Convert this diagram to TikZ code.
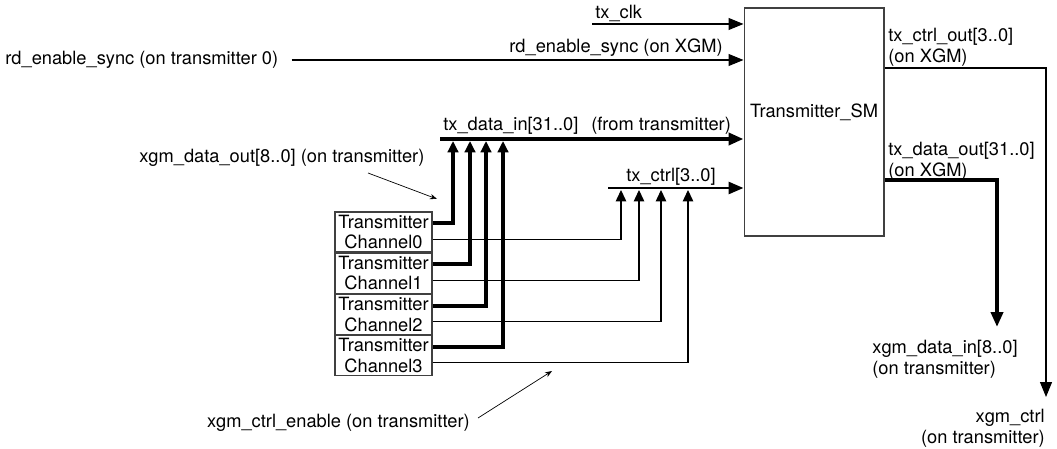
\documentclass[tikz,border=0pt]{standalone}
\usepackage{fontspec}
\setmainfont{TeX Gyre Heros}
\usetikzlibrary{positioning,arrows.meta}

\begin{document}
\begin{tikzpicture}[x=0.02cm,y=-0.02cm,
	font=\fontsize{10.4}{11.6}\selectfont,
	lbl/.style={inner sep=0pt},
	smbox/.style={draw=black!75,line width=0.6pt,minimum width=2.8cm,minimum height=4.56cm},
	chanbox/.style={draw=black!75,line width=0.7pt,minimum width=1.94cm,minimum height=0.8cm,inner sep=0pt,align=center},
	wire/.style={line width=0.6pt},
	bus/.style={line width=2.3pt},
	cbus/.style={line width=1.6pt},
	tip/.style={-{Triangle[length=8.5pt,width=6.8pt]}},
	uptip/.style={-{Triangle[length=6.5pt,width=6pt]}},
	note/.style={-{Stealth[length=4pt,width=3pt]},line width=0.4pt}]
	\useasboundingbox (0,0) rectangle (1057,449);
	
	
	
	% state machine
	\node[smbox] (sm) at (814,122) {};
	\node[lbl] (smname) at ([yshift=5.5pt]sm.center) {Transmitter\_SM};
	
	
	
	% channels
	\node[chanbox] (ch0) at (383.5,232) {Transmitter\\Channel0};
	\node[chanbox,below=0pt of ch0] (ch1) {Transmitter\\Channel1};
	\node[chanbox,below=0pt of ch1] (ch2) {Transmitter\\Channel2};
	\node[chanbox,below=0pt of ch2] (ch3) {Transmitter\\Channel3};
	
	
	
	% clock and enable
	\coordinate (clkin) at (592,24);
	\draw[wire,tip] (clkin) -- (clkin -| sm.west);
	\node[lbl,anchor=base west] (clklbl) at (595,19) {tx\_clk};
	
	\node[lbl,anchor=west] (rdsrc) at (5,60) {rd\_enable\_sync (on transmitter 0)};
	\draw[wire,tip] ([xshift=7.5pt]rdsrc.east) -- (rdsrc.east -| sm.west);
	\node[lbl,anchor=base east] (rdlbl) at (723,53) {rd\_enable\_sync (on XGM)};
	
	
	
	% data and ctrl buses
	\coordinate (dbus) at (440,139);
	\draw[bus,tip] (dbus) -- (dbus -| sm.west);
	\node[lbl,anchor=base west] (dbuslbl) at (443,131) {tx\_data\_in[31..0]\hspace{0.7em}(from transmitter)};
	
	\coordinate (cbus) at (608,188);
	\draw[cbus,tip] (cbus) -- (cbus -| sm.west);
	\node[lbl,anchor=base west] (cbuslbl) at (626,182) {tx\_ctrl[3..0]};
	
	
	
	% channel taps
	\coordinate (din0) at (453,141);
	\coordinate (din1) at (470,141);
	\coordinate (din2) at (486,141);
	\coordinate (din3) at (503,141);
	\draw[bus,uptip] ([yshift=5pt]ch0.east) -| (din0);
	\draw[bus,uptip] ([yshift=5pt]ch1.east) -| (din1);
	\draw[bus,uptip] ([yshift=5pt]ch2.east) -| (din2);
	\draw[bus,uptip] ([yshift=5pt]ch3.east) -| (din3);
	
	\coordinate (cin0) at (621,190);
	\coordinate (cin1) at (639,190);
	\coordinate (cin2) at (661,190);
	\coordinate (cin3) at (688,190);
	\draw[wire,uptip] ([yshift=-4pt]ch0.east) -| (cin0);
	\draw[wire,uptip] ([yshift=-4pt]ch1.east) -| (cin1);
	\draw[wire,uptip] ([yshift=-4pt]ch2.east) -| (cin2);
	\draw[wire,uptip] ([yshift=-4pt]ch3.east) -| (cin3);
	
	
	
	% outputs
	\coordinate (cout) at (1046,397);
	\draw[wire,tip] ([yshift=1.08cm]sm.east) -| (cout);
	\node[lbl,anchor=north west,align=left] (coutlbl) at (888,28) {tx\_ctrl\_out[3..0]\\(on XGM)};
	\node[lbl,anchor=north east,align=right] (xctrl) at (1045,409) {xgm\_ctrl\\(on transmitter)};
	
	\coordinate (dout) at (997,327);
	\draw[bus,tip] ([yshift=-1.16cm]sm.east) -| (dout);
	\node[lbl,anchor=north west,align=left] (doutlbl) at (888,142) {tx\_data\_out[31..0]\\(on XGM)};
	\node[lbl,anchor=north west,align=left] (xdin) at (872,340) {xgm\_data\_in[8..0]\\(on transmitter)};
	
	
	
	% notes
	\node[lbl,anchor=base west] (xdout) at (139,163) {xgm\_data\_out[8..0] (on transmitter)};
	\coordinate (n1a) at (368,173);
	\coordinate (n1b) at (437,199);
	\draw[note] (n1a) -- (n1b);
	
	\node[lbl,anchor=base east] (xcen) at (470,427) {xgm\_ctrl\_enable (on transmitter)};
	\coordinate (n2a) at (478,418);
	\coordinate (n2b) at (552,371);
	\draw[note] (n2a) -- (n2b);
	
\end{tikzpicture}
\end{document}
